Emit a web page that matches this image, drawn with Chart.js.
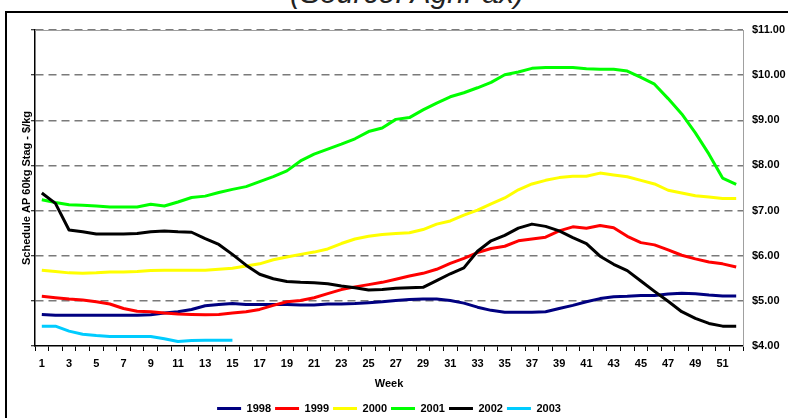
<!DOCTYPE html>
<html><head><meta charset="utf-8">
<script src="https://cdn.jsdelivr.net/npm/chart.js@4.4.0/dist/chart.umd.min.js"></script>
<style>
html,body{margin:0;padding:0;background:#fff;overflow:hidden;}
#wrap{position:relative;width:788px;height:418px;overflow:hidden;}
#src{position:absolute;left:13px;top:-22px;width:788px;text-align:center;font:italic 30px Arial,"Liberation Sans",sans-serif;line-height:30px;color:#222;white-space:nowrap;}
#frame{position:absolute;left:5px;top:11px;width:800px;height:420px;border:2px solid #000;box-sizing:border-box;pointer-events:none;}
canvas{position:absolute;left:0;top:0;}
</style></head>
<body><div id="wrap"><div id="src">(Source: AgriFax)</div><div id="frame"></div><canvas id="c" width="788" height="418"></canvas></div>
<script>
const weeks = [1,2,3,4,5,6,7,8,9,10,11,12,13,14,15,16,17,18,19,20,21,22,23,24,25,26,27,28,29,30,31,32,33,34,35,36,37,38,39,40,41,42,43,44,45,46,47,48,49,50,51,52];
const seriesNames = ['1998','1999','2000','2001','2002','2003'];
const y1998 = [4.70,4.68,4.68,4.68,4.68,4.68,4.68,4.68,4.69,4.73,4.76,4.81,4.89,4.92,4.94,4.92,4.92,4.92,4.92,4.91,4.91,4.93,4.93,4.94,4.96,4.98,5.01,5.03,5.04,5.04,5.01,4.95,4.86,4.79,4.75,4.75,4.75,4.76,4.83,4.90,4.98,5.05,5.09,5.10,5.12,5.12,5.15,5.17,5.16,5.13,5.11,5.11];
const y1999 = [5.10,5.07,5.04,5.02,4.98,4.93,4.83,4.77,4.76,4.73,4.71,4.70,4.69,4.70,4.73,4.76,4.81,4.90,4.98,5.01,5.07,5.16,5.25,5.31,5.36,5.41,5.48,5.55,5.61,5.70,5.83,5.94,6.07,6.16,6.21,6.33,6.37,6.41,6.55,6.64,6.61,6.67,6.62,6.43,6.29,6.24,6.13,6.01,5.93,5.86,5.82,5.75];
const y2000 = [5.68,5.65,5.62,5.61,5.62,5.64,5.64,5.65,5.67,5.68,5.68,5.68,5.68,5.70,5.72,5.77,5.82,5.91,5.97,6.03,6.08,6.15,6.27,6.37,6.43,6.47,6.49,6.51,6.58,6.70,6.77,6.90,7.01,7.15,7.28,7.46,7.59,7.67,7.73,7.76,7.76,7.83,7.79,7.75,7.67,7.59,7.45,7.39,7.33,7.30,7.27,7.27];
const y2001 = [7.24,7.18,7.13,7.12,7.10,7.08,7.08,7.08,7.14,7.10,7.19,7.29,7.32,7.40,7.47,7.53,7.64,7.75,7.88,8.10,8.25,8.36,8.47,8.59,8.75,8.83,9.02,9.06,9.23,9.38,9.52,9.61,9.72,9.84,10.01,10.07,10.15,10.17,10.17,10.17,10.14,10.13,10.13,10.09,9.95,9.80,9.48,9.14,8.72,8.25,7.72,7.58];
const y2002 = [7.39,7.16,6.57,6.53,6.48,6.48,6.48,6.49,6.53,6.55,6.53,6.52,6.38,6.25,6.03,5.79,5.59,5.49,5.43,5.41,5.40,5.38,5.33,5.29,5.24,5.25,5.28,5.29,5.30,5.45,5.60,5.73,6.10,6.33,6.45,6.61,6.70,6.65,6.55,6.40,6.27,5.99,5.81,5.67,5.44,5.21,4.99,4.76,4.61,4.50,4.44,4.44];
const y2003 = [4.44,4.44,4.33,4.26,4.23,4.21,4.21,4.21,4.21,4.16,4.10,4.12,4.13,4.13,4.13];
const colors = ['#000080','#FF0000','#FFFF00','#00FF00','#000000','#00CCFF'];
const yTicks = [4,5,6,7,8,9,10,11];

Chart.defaults.font.family = 'Arial, "Liberation Sans", sans-serif';
Chart.defaults.color = '#000';
const bold11 = {size: 11, weight: 'bold'};
const allSeries = [y1998, y1999, y2000, y2001, y2002, y2003];

const plotBorder = {
  id: 'plotBorder',
  beforeDatasetsDraw(chart) {
    const a = chart.chartArea, ctx = chart.ctx;
    ctx.save();
    ctx.strokeStyle = '#a0a0a0';
    ctx.lineWidth = 1;
    ctx.beginPath();
    ctx.moveTo(a.left, a.top + 0.5);
    ctx.lineTo(a.right, a.top + 0.5);
    ctx.stroke();
    ctx.restore();
  }
};

new Chart(document.getElementById('c'), {
  type: 'line',
  data: {
    labels: weeks,
    datasets: allSeries.map((d, i) => ({
      label: seriesNames[i],
      data: d,
      borderColor: colors[i],
      backgroundColor: colors[i],
      borderWidth: 3,
      pointRadius: 0,
      pointHoverRadius: 0,
      tension: 0,
      fill: false,
      borderJoinStyle: 'round',
      order: 10 - i,
      yAxisID: 'yL'
    }))
  },
  options: {
    responsive: false,
    animation: false,
    layout: {padding: {top: 30, left: 0, right: 0, bottom: -6}},
    plugins: {
      tooltip: {enabled: false},
      legend: {
        position: 'bottom',
        fullSize: false,
        labels: {
          usePointStyle: true,
          pointStyle: 'line',
          pointStyleWidth: 24,
          padding: 4,
          font: bold11,
          color: '#000',
          sort: (a, b) => a.datasetIndex - b.datasetIndex
        }
      }
    },
    scales: {
      x: {
        type: 'category',
        offset: true,
        grid: {offset: true, drawOnChartArea: false, drawTicks: true, tickLength: 5, tickColor: '#000', lineWidth: 1},
        border: {color: '#000', width: 1.5},
        ticks: {autoSkip: false, maxRotation: 0, minRotation: 0, padding: 6, font: bold11, color: '#000',
          callback: (v, i) => (i % 2 === 0 ? String(weeks[i]) : '')},
        title: {display: true, text: 'Week', font: bold11, color: '#000', padding: {top: 0, bottom: 8}},
        afterFit: s => { s.height = 53; }
      },
      yL: {
        position: 'left',
        min: 4, max: 11,
        afterBuildTicks: s => { s.ticks = yTicks.map(v => ({value: v})); },
        ticks: {display: false},
        grid: {
          color: c => (c.tick && c.tick.value === 4 ? 'rgba(0,0,0,0)' : '#7a7a7a'),
          lineWidth: 1.5, tickColor: '#000', tickLength: 4, tickWidth: 1
        },
        border: {color: '#000', width: 1.5, dash: [8, 5]},
        title: {display: true, text: 'Schedule AP 60kg Stag - $/kg', font: bold11, color: '#000', padding: {top: 20, bottom: 0}},
        afterFit: s => { s.width = 35; }
      },
      yR: {
        position: 'right',
        min: 4, max: 11,
        afterBuildTicks: s => { s.ticks = yTicks.map(v => ({value: v})); },
        ticks: {padding: 9, font: bold11, color: '#000', callback: v => '$' + Number(v).toFixed(2)},
        grid: {display: false, drawTicks: false},
        border: {color: '#a0a0a0', width: 1},
        afterFit: s => { s.width = 45; }
      }
    }
  },
  plugins: [plotBorder]
});
</script>
</body></html>
